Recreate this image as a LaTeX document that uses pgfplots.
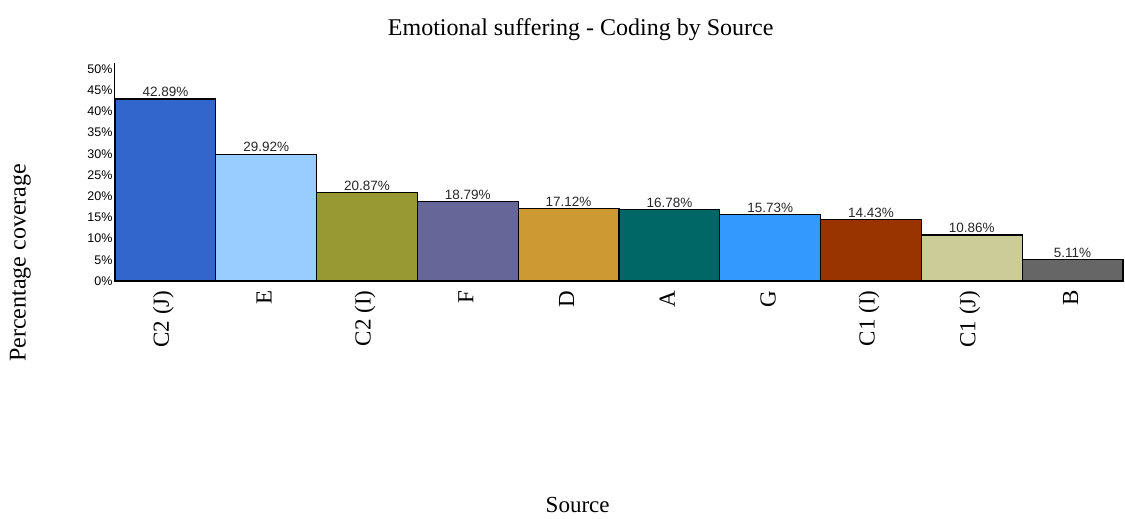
\documentclass[border=0pt]{standalone}
\usepackage{fontspec}
\setmainfont{Liberation Serif}
\newfontfamily\arialf{Liberation Sans}
\usepackage{pgfplots}
\pgfplotsset{compat=1.18}

\definecolor{cCTwoJ}{HTML}{3366CC}
\definecolor{cE}{HTML}{99CCFF}
\definecolor{cCTwoI}{HTML}{999933}
\definecolor{cF}{HTML}{666699}
\definecolor{cD}{HTML}{CC9933}
\definecolor{cA}{HTML}{006666}
\definecolor{cG}{HTML}{3399FF}
\definecolor{cCOneI}{HTML}{993300}
\definecolor{cCOneJ}{HTML}{CCCC99}
\definecolor{cB}{HTML}{666666}

\begin{document}
\begin{tikzpicture}
\path[use as bounding box] (-115pt,-238pt) rectangle (1010pt,281pt);
\begin{axis}[
    scale only axis,
    width=1008pt, height=218pt,
    ybar, bar shift=0pt, bar width=100.8pt,
    xmin=-0.5, xmax=9.5,
    ymin=0, ymax=51.4,
    clip=false,
    axis x line*=bottom, axis y line*=left,
    x axis line style={draw=none},
    y axis line style={-, line width=1pt},
    major tick length=0pt,
    xtick={0,...,9},
    xticklabels={C2 (J),E,C2 (I),F,D,A,G,C1 (I),C1 (J),B},
    x tick label style={rotate=90, anchor=east, font=\fontsize{23}{24}\selectfont, xshift=-6pt, yshift=2pt},
    ytick={0,5,...,50},
    /pgf/number format/assume math mode=true,
    yticklabel={\pgfmathprintnumber{\tick}\%},
    y tick label style={font=\arialf\fontsize{12.5}{13}\selectfont, xshift=1pt},
    title={Emotional suffering - Coding by Source},
    title style={at={(axis description cs:0.462,1.125)}, anchor=center, font=\fontsize{24}{26}\selectfont},
    xlabel={Source},
    xlabel style={at={(axis description cs:0.459,-1.028)}, anchor=center, font=\fontsize{23}{26}\selectfont},
    ylabel={Percentage coverage},
    ylabel style={at={(axis description cs:-0.094,0.083)}, anchor=center, font=\fontsize{24}{26}\selectfont},
    every axis plot/.append style={draw=black, line width=1.2pt},
    nodes near coords={\pgfmathprintnumber[fixed,fixed zerofill,precision=2]{\pgfplotspointmeta}\%},
    every node near coord/.append style={font=\arialf\fontsize{13.5}{14}\selectfont, text=black!85, anchor=south, inner sep=1.5pt},
]
\addplot[fill=cCTwoJ] coordinates {(0,42.89)};
\addplot[fill=cE] coordinates {(1,29.92)};
\addplot[fill=cCTwoI] coordinates {(2,20.87)};
\addplot[fill=cF] coordinates {(3,18.79)};
\addplot[fill=cD] coordinates {(4,17.12)};
\addplot[fill=cA] coordinates {(5,16.78)};
\addplot[fill=cG] coordinates {(6,15.73)};
\addplot[fill=cCOneI] coordinates {(7,14.43)};
\addplot[fill=cCOneJ] coordinates {(8,10.86)};
\addplot[fill=cB] coordinates {(9,5.11)};
\end{axis}
\end{tikzpicture}
\end{document}
